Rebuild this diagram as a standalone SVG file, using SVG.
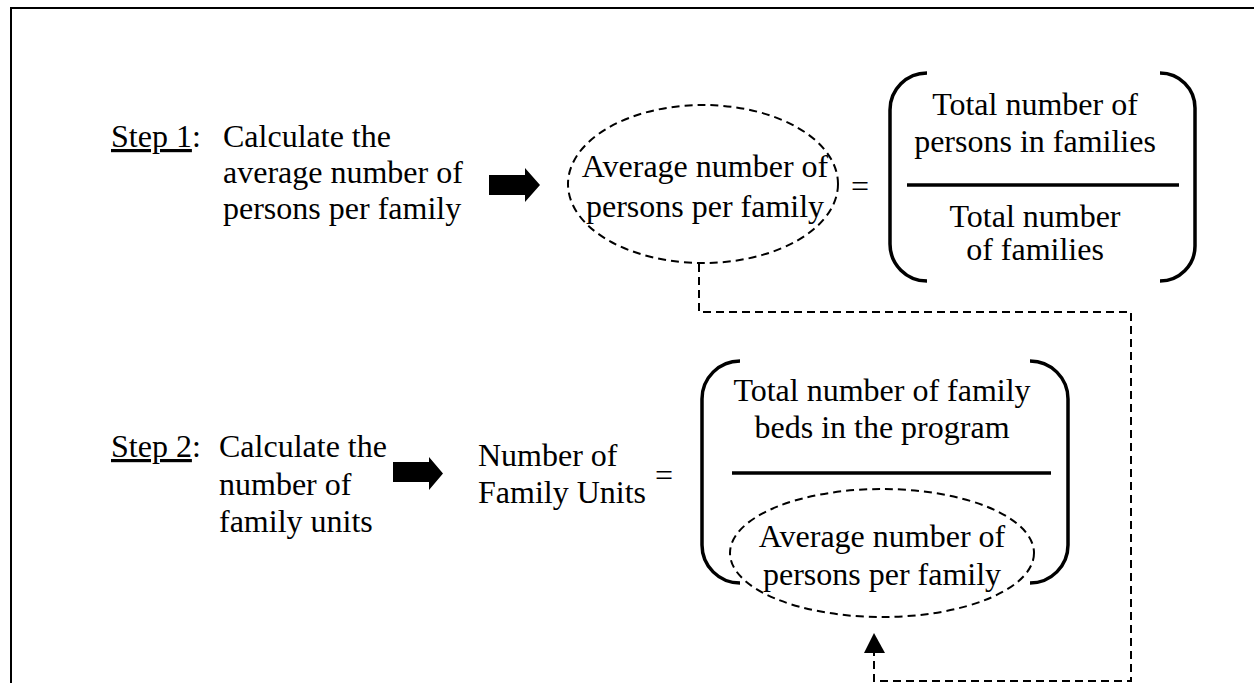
<svg xmlns="http://www.w3.org/2000/svg" width="1254" height="683" viewBox="0 0 1254 683">
<style>
text{font-family:"Liberation Serif","Times New Roman",serif;font-size:32px;fill:#000}
.c{text-anchor:middle}
.dash{fill:none;stroke:#000;stroke-width:2;stroke-dasharray:8 5}
.paren{fill:none;stroke:#000;stroke-width:3.5}
.bar{stroke:#000;stroke-width:3.5}
.blk{fill:#000}
</style>
<rect width="1254" height="683" fill="#fff"/>
<g id="frame"><path d="M11,683 V8 H1254" fill="none" stroke="#000" stroke-width="2"/></g>

<g id="step1">
<text x="111" y="147"><tspan text-decoration="underline">Step 1</tspan>:</text>
<text x="223" y="147">Calculate the</text>
<text x="223" y="183">average number of</text>
<text x="223" y="219">persons per family</text>
</g>
<g id="arrow1"><polygon class="blk" points="489,175 525,175 525,168 540,185 525,202 525,195 489,195"/></g>
<g id="avg1">
<ellipse class="dash" cx="703" cy="184" rx="135" ry="79"/>
<text class="c" x="705" y="177">Average number of</text>
<text class="c" x="705" y="217">persons per family</text>
</g>
<g id="eq1"><text x="851" y="197">=</text></g>
<g id="frac1">
<path class="paren" d="M927,73 A37,37 0 0 0 890,110 L890,244 A37,37 0 0 0 927,281"/>
<path class="paren" d="M1160,73 A35,35 0 0 1 1195,108 L1195,246 A35,35 0 0 1 1160,281"/>
<line class="bar" x1="907" y1="185" x2="1179" y2="185"/>
<text class="c" x="1035" y="115">Total number of</text>
<text class="c" x="1035" y="152">persons in families</text>
<text class="c" x="1035" y="227">Total number</text>
<text class="c" x="1035" y="260">of families</text>
</g>

<g id="step2">
<text x="111" y="457"><tspan text-decoration="underline">Step 2</tspan>:</text>
<text x="219" y="457">Calculate the</text>
<text x="219" y="495">number of</text>
<text x="219" y="532">family units</text>
</g>
<g id="arrow2"><polygon class="blk" points="393,462 429,462 429,457 443,473.5 429,490 429,482 393,482"/></g>
<g id="units">
<text x="478" y="466">Number of</text>
<text x="478" y="503">Family Units</text>
</g>
<g id="eq2"><text x="655" y="486">=</text></g>
<g id="frac2">
<path class="paren" d="M740,361 A38,38 0 0 0 702,399 L702,545 A38,38 0 0 0 740,583"/>
<path class="paren" d="M1030,361 A38,38 0 0 1 1068,399 L1068,545 A38,38 0 0 1 1030,583"/>
<line class="bar" x1="732" y1="473" x2="1051" y2="473"/>
<text class="c" x="882" y="401">Total number of family</text>
<text class="c" x="882" y="438">beds in the program</text>
</g>
<g id="avg2">
<ellipse class="dash" cx="882" cy="553" rx="152" ry="64"/>
<text class="c" x="882" y="547">Average number of</text>
<text class="c" x="882" y="585">persons per family</text>
</g>

<g id="connectors">
<path class="dash" d="M699,264 V312 H1131 V681 H874 V653"/>
<polygon class="blk" points="874,633 864,653 885,653"/>
</g>
</svg>
